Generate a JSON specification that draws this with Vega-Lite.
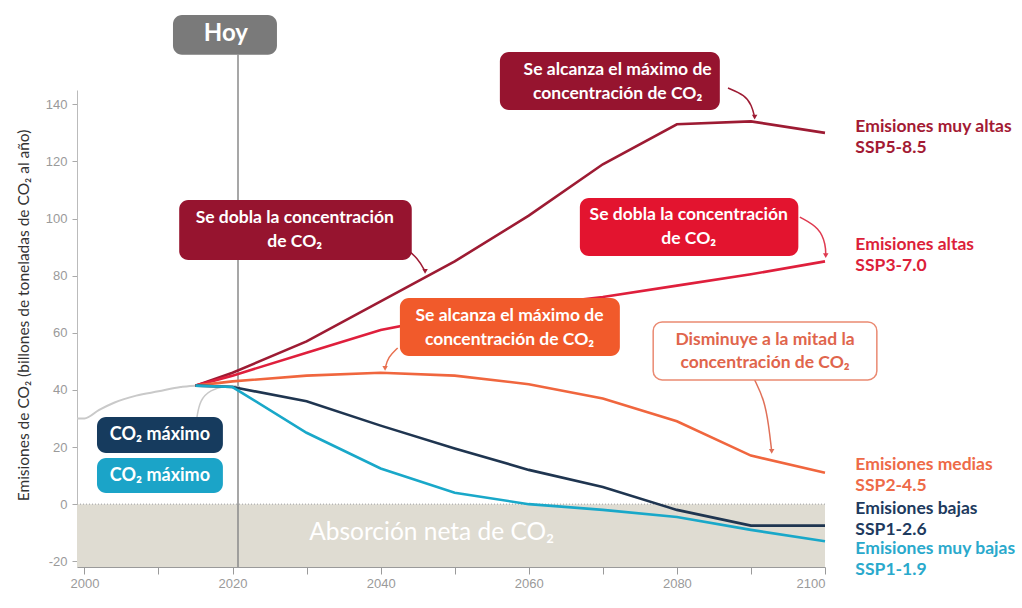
{
  "$schema": "https://vega.github.io/schema/vega-lite/v6.json",
  "width": 748,
  "height": 477,
  "autosize": {"type": "none"},
  "padding": {"left": 77, "top": 90, "right": 197, "bottom": 41},
  "background": "white",
  "config": {"font": "Lato", "view": {"stroke": null}},
  "datasets": {
    "series": [
      {"s": "SSP5-8.5", "year": 2015, "value": 41.5}, {"s": "SSP5-8.5", "year": 2020, "value": 46}, {"s": "SSP5-8.5", "year": 2030, "value": 57}, {"s": "SSP5-8.5", "year": 2040, "value": 71}, {"s": "SSP5-8.5", "year": 2050, "value": 85}, {"s": "SSP5-8.5", "year": 2060, "value": 101}, {"s": "SSP5-8.5", "year": 2070, "value": 119}, {"s": "SSP5-8.5", "year": 2080, "value": 133}, {"s": "SSP5-8.5", "year": 2090, "value": 134}, {"s": "SSP5-8.5", "year": 2100, "value": 130},
      {"s": "SSP3-7.0", "year": 2015, "value": 41.5}, {"s": "SSP3-7.0", "year": 2020, "value": 45}, {"s": "SSP3-7.0", "year": 2030, "value": 53}, {"s": "SSP3-7.0", "year": 2040, "value": 61}, {"s": "SSP3-7.0", "year": 2050, "value": 66}, {"s": "SSP3-7.0", "year": 2060, "value": 69.5}, {"s": "SSP3-7.0", "year": 2070, "value": 72.5}, {"s": "SSP3-7.0", "year": 2080, "value": 76.5}, {"s": "SSP3-7.0", "year": 2090, "value": 80.5}, {"s": "SSP3-7.0", "year": 2100, "value": 85},
      {"s": "SSP2-4.5", "year": 2015, "value": 41.5}, {"s": "SSP2-4.5", "year": 2020, "value": 43}, {"s": "SSP2-4.5", "year": 2030, "value": 45}, {"s": "SSP2-4.5", "year": 2040, "value": 46}, {"s": "SSP2-4.5", "year": 2050, "value": 45}, {"s": "SSP2-4.5", "year": 2060, "value": 42}, {"s": "SSP2-4.5", "year": 2070, "value": 37}, {"s": "SSP2-4.5", "year": 2080, "value": 29}, {"s": "SSP2-4.5", "year": 2090, "value": 17}, {"s": "SSP2-4.5", "year": 2100, "value": 11},
      {"s": "SSP1-2.6", "year": 2015, "value": 41.5}, {"s": "SSP1-2.6", "year": 2020, "value": 41}, {"s": "SSP1-2.6", "year": 2030, "value": 36}, {"s": "SSP1-2.6", "year": 2040, "value": 27.5}, {"s": "SSP1-2.6", "year": 2050, "value": 19.5}, {"s": "SSP1-2.6", "year": 2060, "value": 12}, {"s": "SSP1-2.6", "year": 2070, "value": 6}, {"s": "SSP1-2.6", "year": 2080, "value": -2}, {"s": "SSP1-2.6", "year": 2090, "value": -7.5}, {"s": "SSP1-2.6", "year": 2100, "value": -7.5},
      {"s": "SSP1-1.9", "year": 2015, "value": 41.5}, {"s": "SSP1-1.9", "year": 2020, "value": 41}, {"s": "SSP1-1.9", "year": 2030, "value": 25}, {"s": "SSP1-1.9", "year": 2040, "value": 12.5}, {"s": "SSP1-1.9", "year": 2050, "value": 4}, {"s": "SSP1-1.9", "year": 2060, "value": 0}, {"s": "SSP1-1.9", "year": 2070, "value": -2}, {"s": "SSP1-1.9", "year": 2080, "value": -4.5}, {"s": "SSP1-1.9", "year": 2090, "value": -9}, {"s": "SSP1-1.9", "year": 2100, "value": -13}
    ],
    "hist": [
      {"year": 1999, "value": 30}, {"year": 2000, "value": 30}, {"year": 2002, "value": 33}, {"year": 2004, "value": 35.5}, {"year": 2007, "value": 38}, {"year": 2010, "value": 39.5}, {"year": 2013, "value": 41}, {"year": 2015, "value": 41.5}, {"year": 2018, "value": 41.5}, {"year": 2021, "value": 41}
    ],
    "arrows": [
      {"id": "arrA", "o": 1, "year": 2086.9, "value": 145.7}, {"id": "arrA", "o": 2, "year": 2089.2, "value": 143.2}, {"id": "arrA", "o": 3, "year": 2090.1, "value": 139.7}, {"id": "arrA", "o": 4, "year": 2090.5, "value": 135.5},
      {"id": "arrB", "o": 1, "year": 2043.3, "value": 89.7}, {"id": "arrB", "o": 2, "year": 2045.0, "value": 86.2}, {"id": "arrB", "o": 3, "year": 2046.0, "value": 81.5},
      {"id": "arrC", "o": 1, "year": 2096.6, "value": 100.5}, {"id": "arrC", "o": 2, "year": 2099.3, "value": 96.7}, {"id": "arrC", "o": 3, "year": 2100.1, "value": 90.7}, {"id": "arrC", "o": 4, "year": 2100.1, "value": 87},
      {"id": "arrD", "o": 1, "year": 2042.3, "value": 54.7}, {"id": "arrD", "o": 2, "year": 2041.0, "value": 51.5}, {"id": "arrD", "o": 3, "year": 2040.6, "value": 47.5},
      {"id": "arrE", "o": 1, "year": 2090.5, "value": 43.5}, {"id": "arrE", "o": 2, "year": 2091.8, "value": 36.5}, {"id": "arrE", "o": 3, "year": 2092.4, "value": 27.7}, {"id": "arrE", "o": 4, "year": 2092.8, "value": 18.5},
      {"id": "arrF", "o": 1, "year": 2015.2, "value": 30.5}, {"id": "arrF", "o": 2, "year": 2015.6, "value": 36.5}, {"id": "arrF", "o": 3, "year": 2017.0, "value": 40.0}, {"id": "arrF", "o": 4, "year": 2019.0, "value": 41.4}, {"id": "arrF", "o": 5, "year": 2020.5, "value": 41.4}
    ],
    "heads": [
      {"id": "headA", "year": 2090.5, "value": 135.5},
      {"id": "headB", "year": 2046.0, "value": 81.5},
      {"id": "headC", "year": 2100.1, "value": 87},
      {"id": "headD", "year": 2040.6, "value": 47.5},
      {"id": "headE", "year": 2092.8, "value": 18.5}
    ],
    "boxes": [
      {"id": "hoy", "year": 2011.96, "year2": 2026.0, "value": 171.3, "value2": 157.3},
      {"id": "a", "year": 2056.1, "year2": 2085.8, "value": 158.3, "value2": 138.0},
      {"id": "b", "year": 2012.8, "year2": 2044.2, "value": 106.5, "value2": 85.5},
      {"id": "c", "year": 2066.9, "year2": 2096.4, "value": 107.2, "value2": 86.9},
      {"id": "d", "year": 2042.6, "year2": 2072.3, "value": 72.2, "value2": 51.9},
      {"id": "f", "year": 2001.7, "year2": 2018.7, "value": 30.5, "value2": 17.9},
      {"id": "g", "year": 2001.7, "year2": 2018.7, "value": 16.2, "value2": 3.9}
    ],
    "boxtext": [
      {"label": "Se alcanza el máximo de\nconcentración de CO₂", "year": 2072.0, "value": 147.8},
      {"label": "Se dobla la concentración\nde CO₂", "year": 2028.4, "value": 96.0},
      {"label": "Se dobla la concentración\nde CO₂", "year": 2081.6, "value": 97.0},
      {"label": "Se alcanza el máximo de\nconcentración de CO₂", "year": 2057.4, "value": 61.7}
    ],
    "small": [
      {"label": "CO₂ máximo", "year": 2010.2, "value": 24.2},
      {"label": "CO₂ máximo", "year": 2010.2, "value": 10.0}
    ],
    "right": [
      {"s": "SSP5-8.5", "label": "Emisiones muy altas\nSSP5-8.5", "year": 2104.1, "value": 128.5},
      {"s": "SSP3-7.0", "label": "Emisiones altas\nSSP3-7.0", "year": 2104.1, "value": 86.9},
      {"s": "SSP2-4.5", "label": "Emisiones medias\nSSP2-4.5", "year": 2104.1, "value": 10.2},
      {"s": "SSP1-2.6", "label": "Emisiones bajas\nSSP1-2.6", "year": 2104.1, "value": -5.2},
      {"s": "SSP1-1.9", "label": "Emisiones muy bajas\nSSP1-1.9", "year": 2104.1, "value": -19.5}
    ]
  },
  "encoding": {
    "x": {
      "field": "year", "type": "quantitative",
      "scale": {"domain": [1999, 2100], "nice": false, "zero": false},
      "axis": {
        "title": null, "grid": false,
        "values": [2000, 2010, 2020, 2030, 2040, 2050, 2060, 2070, 2080, 2090, 2100],
        "labelExpr": "datum.value % 20 == 0 ? datum.label : ''",
        "format": "d", "tickSize": 7, "tickColor": "#9a9a9a", "domainColor": "#9a9a9a",
        "labelColor": "#9a9a9a", "labelFontSize": 13, "labelPadding": 3, "labelFont": "Liberation Sans"
      }
    },
    "y": {
      "field": "value", "type": "quantitative",
      "scale": {"domain": [-22, 145], "nice": false, "zero": false},
      "axis": {
        "title": "Emisiones de CO₂ (billones de toneladas de CO₂ al año)",
        "grid": false,
        "values": [-20, 0, 20, 40, 60, 80, 100, 120, 140],
        "labelExpr": "datum.value < 0 ? '-' + abs(datum.value) : datum.label",
        "tickSize": 5, "tickColor": "#aaaaaa", "domainColor": "#bbbbbb",
        "labelColor": "#9a9a9a", "labelFontSize": 13, "labelPadding": 5, "labelFont": "Liberation Sans",
        "titleFontSize": 15.5, "titleFontWeight": "normal", "titleColor": "#333333", "titlePadding": 14, "titleFont": "Lato", "titleY": 225
      }
    }
  },
  "layer": [
    {
      "data": {"values": [{"year": 1999, "year2": 2100, "value": 0, "value2": -22}]},
      "mark": {"type": "rect", "color": "#dfdcd2"},
      "encoding": {"x2": {"field": "year2"}, "y2": {"field": "value2"}}
    },
    {
      "data": {"values": [{"year": 1999, "year2": 2100, "value": 0}]},
      "mark": {"type": "rule", "color": "#b8b8b8", "strokeDash": [1, 2], "strokeWidth": 1.5},
      "encoding": {"x2": {"field": "year2"}}
    },
    {
      "data": {"values": [{"label": "Absorción neta de CO₂", "year": 2046.9, "value": -10}]},
      "mark": {"type": "text", "color": "#ffffff", "fontSize": 24.5, "align": "center", "baseline": "middle", "font": "Lato"},
      "encoding": {"text": {"field": "label"}}
    },
    {
      "data": {"values": [{"year": 2020.74, "value": 157.3, "value2": -22}]},
      "mark": {"type": "rule", "color": "#8a8a8a", "strokeWidth": 1.5},
      "encoding": {"y2": {"field": "value2"}}
    },
    {
      "data": {"name": "hist"},
      "mark": {"type": "line", "color": "#c9c9c9", "strokeWidth": 2, "interpolate": "monotone"}
    },
    {
      "data": {"name": "arrows"},
      "mark": {"type": "line", "strokeWidth": 1.5, "interpolate": "basis"},
      "encoding": {
        "detail": {"field": "id"},
        "order": {"field": "o"},
        "stroke": {"field": "id", "legend": null, "scale": {
          "domain": ["SSP5-8.5", "SSP3-7.0", "SSP2-4.5", "SSP1-2.6", "SSP1-1.9", "arrA", "arrB", "arrC", "arrD", "arrE", "arrF"],
          "range": ["#9d1b33", "#df1f3c", "#f0663e", "#1f3550", "#19a8c9", "#9d1b33", "#9d1b33", "#df3a50", "#e87050", "#e07058", "#c8c8c8"]}}
      }
    },
    {
      "data": {"name": "series"},
      "mark": {"type": "line", "strokeWidth": 2.6},
      "encoding": {
        "detail": {"field": "s"},
        "stroke": {"field": "s", "legend": null}
      }
    },
    {
      "data": {"name": "heads"},
      "mark": {"type": "point", "shape": "triangle-down", "filled": true, "size": 30, "opacity": 1},
      "encoding": {
        "fill": {"field": "id", "legend": null, "scale": {
          "domain": ["hoy", "a", "b", "c", "d", "f", "g", "headA", "headB", "headC", "headD", "headE"],
          "range": ["#7a7a7a", "#96142f", "#96142f", "#e3142f", "#f15a2b", "#163b5e", "#1ba4c8", "#9d1b33", "#9d1b33", "#df3a50", "#e87050", "#e07058"]}}
      }
    },
    {
      "data": {"name": "boxes"},
      "mark": {"type": "rect", "cornerRadius": 9},
      "encoding": {
        "x2": {"field": "year2"}, "y2": {"field": "value2"},
        "fill": {"field": "id", "legend": null}
      }
    },
    {
      "data": {"values": [{"year": 2076.8, "year2": 2107.0, "value": 63.8, "value2": 43.5}]},
      "mark": {"type": "rect", "cornerRadius": 9, "fill": "#ffffff", "stroke": "#ea8a72", "strokeWidth": 1.5},
      "encoding": {"x2": {"field": "year2"}, "y2": {"field": "value2"}}
    },
    {
      "data": {"values": [{"label": "Hoy", "year": 2019.1, "value": 164.6}]},
      "mark": {"type": "text", "color": "#ffffff", "fontSize": 24, "fontWeight": "bold", "align": "center", "baseline": "middle", "font": "Lato"},
      "encoding": {"text": {"field": "label"}}
    },
    {
      "data": {"name": "boxtext"},
      "mark": {"type": "text", "color": "#ffffff", "fontSize": 17.5, "fontWeight": "bold", "align": "center", "baseline": "middle", "lineBreak": "\n", "lineHeight": 24, "dy": -12, "font": "Lato"},
      "encoding": {"text": {"field": "label"}}
    },
    {
      "data": {"values": [{"label": "Disminuye a la mitad la\nconcentración de CO₂", "year": 2091.9, "value": 53.6}]},
      "mark": {"type": "text", "color": "#e0654c", "fontSize": 17.5, "fontWeight": "bold", "align": "center", "baseline": "middle", "lineBreak": "\n", "lineHeight": 23, "dy": -11.5, "font": "Lato"},
      "encoding": {"text": {"field": "label"}}
    },
    {
      "data": {"name": "small"},
      "mark": {"type": "text", "color": "#ffffff", "fontSize": 18, "fontWeight": "bold", "align": "center", "baseline": "middle", "font": "Lato"},
      "encoding": {"text": {"field": "label"}}
    },
    {
      "data": {"name": "right"},
      "mark": {"type": "text", "fontSize": 17.5, "fontWeight": "bold", "align": "left", "baseline": "middle", "lineBreak": "\n", "lineHeight": 21, "dy": -10.5, "font": "Lato"},
      "encoding": {
        "text": {"field": "label"},
        "color": {"field": "s", "legend": null, "scale": {
          "domain": ["SSP5-8.5", "SSP3-7.0", "SSP2-4.5", "SSP1-2.6", "SSP1-1.9"],
          "range": ["#a31a34", "#dc1f3a", "#ee6a48", "#1d3a5e", "#2aa9cc"]}}
      }
    }
  ]
}
